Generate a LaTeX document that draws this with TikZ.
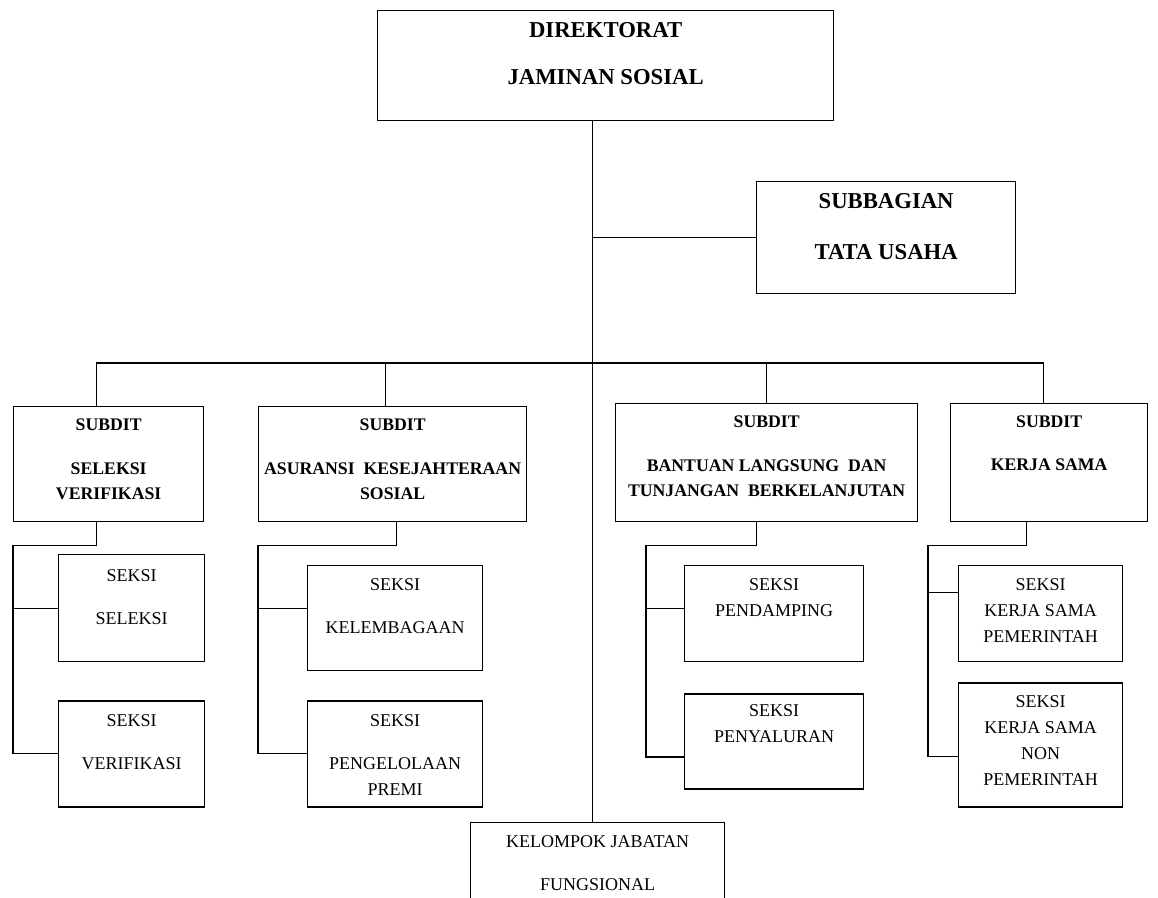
\documentclass[tikz,border=0pt]{standalone}
\usepackage{fontspec}
\setmainfont{Liberation Serif}
\usetikzlibrary{positioning,calc}

\begin{document}
\begin{tikzpicture}[
    box/.style={rectangle,draw,line width=0.9pt,anchor=north west,inner sep=0pt},
    headtxt/.style={font=\bfseries\fontsize{16.15pt}{20pt}\selectfont,align=center,inner sep=0pt},
    subtxt/.style={font=\bfseries\fontsize{12.6pt}{17.8pt}\selectfont,align=center,inner sep=0pt},
    seksitxt/.style={font=\fontsize{12.8pt}{18.5pt}\selectfont,align=center,inner sep=0pt},
    conn/.style={line width=0.8pt}
]
    \useasboundingbox[fill=white] (0,0) rectangle (28.95,-22.425);

    % Top level
    \node[box,minimum width=11.4cm,minimum height=2.75cm] (dir) at (9.425,-0.25) {};
    \node[headtxt,below=0.3125cm of dir.north] (dirt) {DIREKTORAT\\[13.4pt]JAMINAN SOSIAL};
    \node[box,minimum width=6.475cm,minimum height=2.8cm] (tu) at (18.9,-4.525) {};
    \node[headtxt,below=0.3125cm of tu.north] (tut) {SUBBAGIAN\\[16.3pt]TATA USAHA};

    % Subdit
    \node[box,minimum width=4.75cm,minimum height=2.875cm] (b1) at (0.325,-10.15) {};
    \node[box,minimum width=6.7cm,minimum height=2.875cm] (b2) at (6.45,-10.15) {};
    \node[box,minimum width=7.55cm,minimum height=2.95cm] (b3) at (15.375,-10.075) {};
    \node[box,minimum width=4.925cm,minimum height=2.95cm] (b4) at (23.75,-10.075) {};
    \node[subtxt,below=0.3cm of b1.north] (b1t) {SUBDIT\\[13.5pt]SELEKSI\\VERIFIKASI};
    \node[subtxt,below=0.3cm of b2.north] (b2t) {SUBDIT\\[13.5pt]ASURANSI\ \ KESEJAHTERAAN\\SOSIAL};
    \node[subtxt,below=0.3cm of b3.north] (b3t) {SUBDIT\\[13.5pt]BANTUAN LANGSUNG\ \ DAN\\TUNJANGAN\ \ BERKELANJUTAN};
    \node[subtxt,below=0.3cm of b4.north] (b4t) {SUBDIT\\[12.8pt]KERJA SAMA};

    % Seksi
    \node[box,minimum width=3.65cm,minimum height=2.675cm] (s1) at (1.45,-13.85) {};
    \node[box,minimum width=3.65cm,minimum height=2.65cm,anchor=north,below=0.95cm of s1] (s2) {};
    \node[box,minimum width=4.375cm,minimum height=2.625cm] (s3) at (7.675,-14.125) {};
    \node[box,minimum width=4.375cm,minimum height=2.65cm,anchor=north,below=0.725cm of s3] (s4) {};
    \node[box,minimum width=4.475cm,minimum height=2.4cm] (s5) at (17.1,-14.125) {};
    \node[box,minimum width=4.475cm,minimum height=2.375cm,anchor=north,below=0.775cm of s5] (s6) {};
    \node[box,minimum width=4.1cm,minimum height=2.4cm] (s7) at (23.95,-14.125) {};
    \node[box,minimum width=4.1cm,minimum height=3.1cm,anchor=north,below=0.5cm of s7] (s8) {};
    \node[seksitxt,below=0.375cm of s1.north] (s1t) {SEKSI\\[12pt]SELEKSI};
    \node[seksitxt,below=0.35cm of s2.north] (s2t) {SEKSI\\[12pt]VERIFIKASI};
    \node[seksitxt,below=0.325cm of s3.north] (s3t) {SEKSI\\[12pt]KELEMBAGAAN};
    \node[seksitxt,below=0.35cm of s4.north] (s4t) {SEKSI\\[12pt]PENGELOLAAN\\PREMI};
    \node[seksitxt,below=0.325cm of s5.north] (s5t) {SEKSI\\PENDAMPING};
    \node[seksitxt,below=0.275cm of s6.north] (s6t) {SEKSI\\PENYALURAN};
    \node[seksitxt,below=0.325cm of s7.north] (s7t) {SEKSI\\KERJA SAMA\\PEMERINTAH};
    \node[seksitxt,below=0.325cm of s8.north] (s8t) {SEKSI\\KERJA SAMA\\NON\\PEMERINTAH};

    % Fungsional
    \node[box,minimum width=6.35cm,minimum height=2.8cm] (kjf) at (11.75,-20.55) {};
    \node[seksitxt,below=0.325cm of kjf.north] (kjft) {KELOMPOK JABATAN\\[12pt]FUNGSIONAL};

    % Trunk and bus
    \coordinate (t0) at ([xshift=-0.325cm]dir.south);
    \coordinate (bus) at (0,-9.075);
    \coordinate (d1) at ([xshift=-0.3cm]b1.north);
    \coordinate (d2) at ([xshift=-0.175cm]b2.north);
    \coordinate (d3) at (b3.north);
    \coordinate (d4) at ([xshift=-0.1375cm]b4.north);
    \draw[conn] (t0) -- (t0 |- kjf.north);
    \draw[conn] (t0 |- tu.west) -- (tu.west);
    \draw[conn] (d1) |- (d4 |- bus) -- (d4);
    \draw[conn] (d2) -- (d2 |- bus);
    \draw[conn] (d3) -- (d3 |- bus);

    % Seksi links
    \coordinate (s3in) at ([yshift=0.25cm]s3.west);
    \coordinate (r3) at ([xshift=-0.95cm]s5.west);
    \coordinate (s5in) at ([yshift=0.13cm]s5.west);
    \coordinate (s6in) at ([yshift=-0.39cm]s6.west);
    \coordinate (r4) at ([xshift=-0.75cm]s7.west);
    \coordinate (s7in) at ([yshift=0.525cm]s7.west);
    \coordinate (s8in) at ([yshift=-0.3cm]s8.west);
    \draw[conn] ([xshift=-0.3cm]b1.south) -- ++(0,-0.575) -| (b1.west |- s2.west) -- (s2.west);
    \draw[conn] (b1.west |- s1.west) -- (s1.west);
    \draw[conn] ([xshift=0.1cm]b2.south) -- ++(0,-0.575) -| (b2.west |- s4.west) -- (s4.west);
    \draw[conn] (b2.west |- s3in) -- (s3in);
    \draw[conn] ([xshift=-0.25cm]b3.south) -- ++(0,-0.575) -| (r3 |- s6in) -- (s6in);
    \draw[conn] (r3 |- s5in) -- (s5in);
    \draw[conn] ([xshift=-0.5625cm]b4.south) -- ++(0,-0.575) -| (r4 |- s8in) -- (s8in);
    \draw[conn] (r4 |- s7in) -- (s7in);
\end{tikzpicture}
\end{document}
